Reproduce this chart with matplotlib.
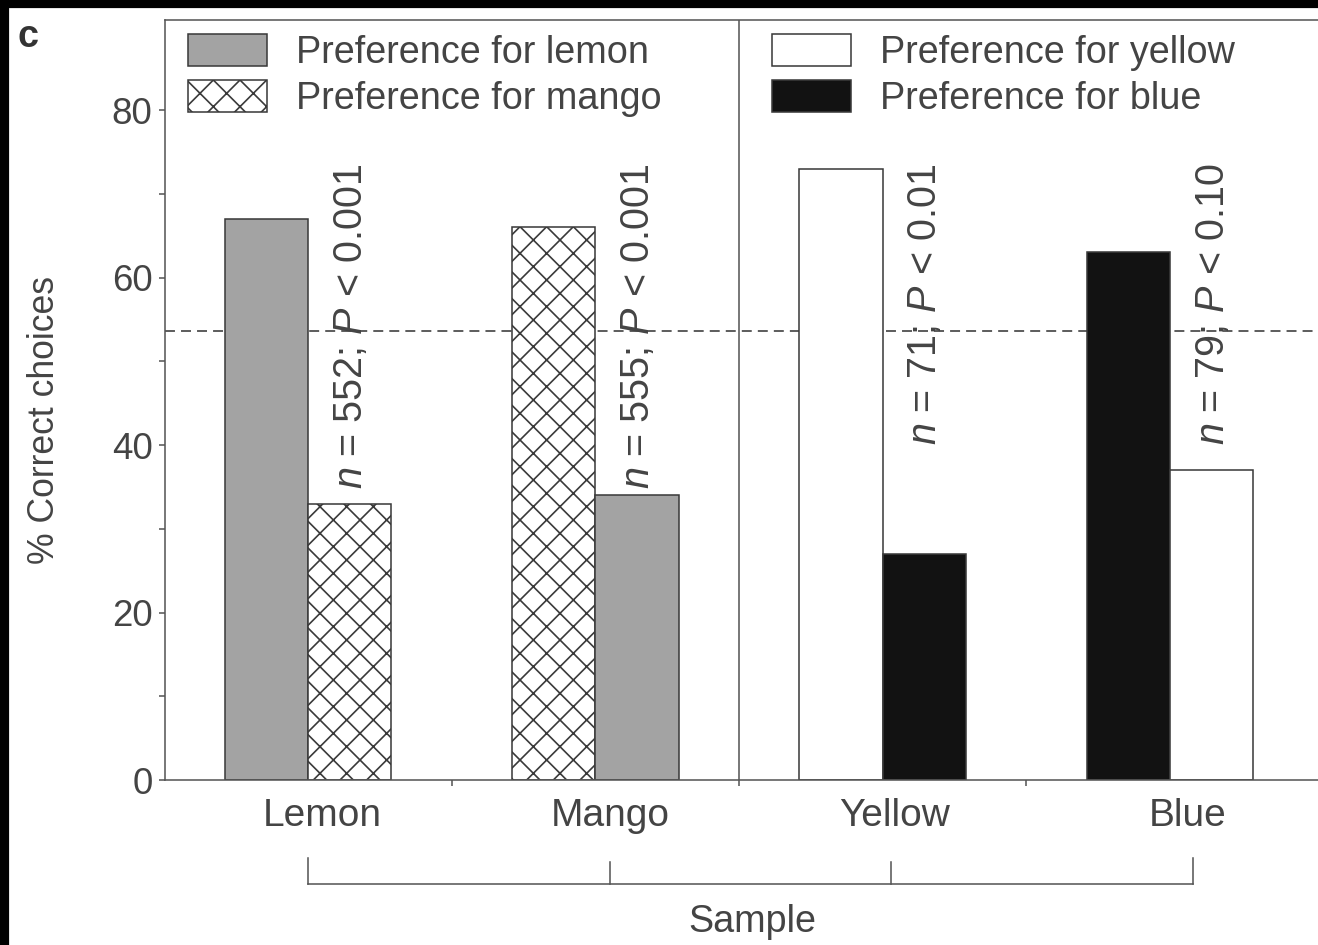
import matplotlib
matplotlib.use("Agg")
import matplotlib.pyplot as plt
from matplotlib.patches import Patch, Rectangle
import matplotlib.transforms as mtransforms

# data
samples = ["Lemon", "Mango", "Yellow", "Blue"]
left_bar = [67, 66, 73, 63]
right_bar = [33, 34, 27, 37]
n_values = [552, 555, 71, 79]
p_values = ["0.001", "0.001", "0.01", "0.10"]
chance_level = 53.6
label_pos = [0.05, 1.05, 2.04, 3.06]
bracket_pos = [0.0, 1.05, 2.03, 3.08]

plt.rcParams["font.family"] = ["Liberation Sans", "DejaVu Sans"]
plt.rcParams["mathtext.fontset"] = "custom"
plt.rcParams["mathtext.it"] = "Liberation Sans:italic"
plt.rcParams["mathtext.rm"] = "Liberation Sans"
plt.rcParams["hatch.linewidth"] = 0.75

txt = "#444444"
ln = "#555555"
edge = "#3a3a3a"
GRAY = "#a3a3a3"
BLACK = "#121212"

styles = {
    "gray": dict(facecolor=GRAY, hatch=None),
    "hatch": dict(facecolor="white", hatch="xx"),
    "white": dict(facecolor="white", hatch=None),
    "black": dict(facecolor=BLACK, hatch=None),
}
left_style = ["gray", "hatch", "white", "black"]
right_style = ["hatch", "gray", "black", "white"]

fig = plt.figure(figsize=(1318 / 160, 945 / 160), dpi=160)
ax = fig.add_axes([165 / 1318, 1 - 780 / 945, 1 - 165 / 1318, 760 / 945])

w = 0.29
for i in range(len(samples)):
    s = styles[left_style[i]]
    ax.bar(i - w, left_bar[i], width=w, align="edge", facecolor=s["facecolor"],
           hatch=s["hatch"], edgecolor=edge, linewidth=0.7, zorder=2)
    s = styles[right_style[i]]
    ax.bar(i, right_bar[i], width=w, align="edge", facecolor=s["facecolor"],
           hatch=s["hatch"], edgecolor=edge, linewidth=0.7, zorder=2)
    ax.text(i + 0.148, 73.6, r"$n$ = %d; $P$ < %s" % (n_values[i], p_values[i]),
            rotation=90, ha="center", va="top", fontsize=17.8, color=txt, zorder=3)

ax.axhline(chance_level, color="#333333", lw=0.7, ls=(0, (6.4, 3.9)), zorder=1)
ax.axvline(1.5, color=ln, lw=0.7, zorder=1)

ax.set_xlim(-0.498, 3.515)
ax.set_ylim(0, 90.75)

for sp in ["left", "bottom", "top"]:
    ax.spines[sp].set_color(ln)
    ax.spines[sp].set_linewidth(0.7)
ax.spines["right"].set_visible(False)

ax.set_yticks([0, 20, 40, 60, 80])
ax.set_yticks([10, 30, 50, 70], minor=True)
ax.tick_params(axis="y", which="both", direction="out", length=2.6, width=0.7,
               color=ln, labelsize=16.5, labelcolor=txt, pad=3)
ax.set_xticks(label_pos, samples)
ax.set_xticks([0.5, 1.5, 2.5], minor=True)
ax.tick_params(axis="x", which="major", length=0, labelsize=17.5, labelcolor=txt, pad=8)
ax.tick_params(axis="x", which="minor", direction="out", length=2.6, width=0.7, color=ln)

# bracket under the sample labels
trans = mtransforms.blended_transform_factory(ax.transData, ax.transAxes)
yb = -0.1368
ax.plot([bracket_pos[0], bracket_pos[-1]], [yb, yb], color=ln, lw=0.7,
        transform=trans, clip_on=False)
for j, xp in enumerate(bracket_pos):
    top = -0.1026 if j in (0, len(bracket_pos) - 1) else -0.108
    ax.plot([xp, xp], [yb, top], color=ln, lw=0.7, transform=trans, clip_on=False)

leg_kw = dict(loc="upper left", frameon=False, fontsize=17, handlelength=2.1,
              handleheight=0.95, handletextpad=0.77, labelspacing=0.23,
              borderpad=0, borderaxespad=0, labelcolor=txt)
leg1 = ax.legend(handles=[Patch(facecolor=GRAY, edgecolor=edge, lw=0.7, label="Preference for lemon"),
                          Patch(facecolor="white", hatch="xx", edgecolor=edge, lw=0.7, label="Preference for mango")],
                 bbox_to_anchor=(0.0200, 0.982), **leg_kw)
ax.add_artist(leg1)
ax.legend(handles=[Patch(facecolor="white", edgecolor=edge, lw=0.7, label="Preference for yellow"),
                   Patch(facecolor=BLACK, edgecolor=edge, lw=0.7, label="Preference for blue")],
          bbox_to_anchor=(0.5265, 0.982), **leg_kw)

fig.text(45 / 1318, 1 - 420 / 945, "% Correct choices", rotation=90, ha="center", va="center",
         fontsize=16, color=txt)
fig.text(752 / 1318, 1 - 922 / 945, "Sample", ha="center", va="center", fontsize=17, color=txt)
fig.text(28 / 1318, 1 - 37 / 945, "c", ha="center", va="center", fontsize=17, fontweight="bold", color="#333333")

# black scan border
fig.add_artist(Rectangle((0, 0), 8 / 1318, 1, transform=fig.transFigure, color="black", zorder=10))
fig.add_artist(Rectangle((0, 1 - 7 / 945), 1, 7 / 945, transform=fig.transFigure, color="black", zorder=10))

fig.savefig("out.png", dpi=160)
